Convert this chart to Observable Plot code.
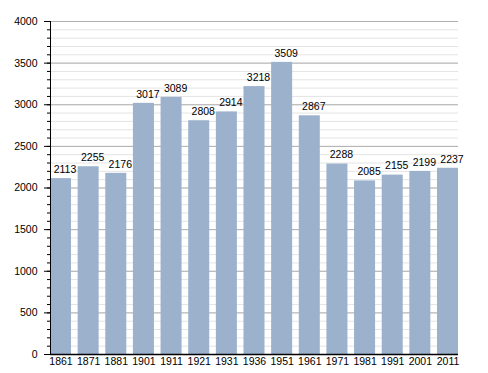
<!DOCTYPE html>
<html>
<head>
<meta charset="utf-8">
<script src="https://cdn.jsdelivr.net/npm/d3@7"></script>
<script src="https://cdn.jsdelivr.net/npm/@observablehq/plot@0.6"></script>
<style>
  html, body { margin: 0; padding: 0; background: #fff; }
</style>
</head>
<body>
<div id="chart"></div>
<script>
const years = ["1861","1871","1881","1901","1911","1921","1931","1936","1951","1961","1971","1981","1991","2001","2011"];
const population = [2113, 2255, 2176, 3017, 3089, 2808, 2914, 3218, 3509, 2867, 2288, 2085, 2155, 2199, 2237];
const majorTicks = [0, 500, 1000, 1500, 2000, 2500, 3000, 3500, 4000];
const minorTicks = d3.range(0, 4001, 100);

const data = years.map((y, i) => ({year: y, pop: population[i]}));

const chart = Plot.plot({
  width: 488,
  height: 373,
  marginLeft: 50,
  marginRight: 30,
  marginTop: 21,
  marginBottom: 19,
  style: {fontFamily: "'Liberation Sans', Arial, sans-serif", fontSize: "10px", color: "#000", background: "#fff"},
  x: {domain: years, padding: 0, paddingInner: 0.24, paddingOuter: 0, round: false, label: null},
  y: {domain: [0, 4000], label: null},
  marks: [
    Plot.ruleY(minorTicks, {stroke: "#e4e4e4", strokeWidth: 1}),
    Plot.ruleY(majorTicks, {stroke: "#b0b0b0", strokeWidth: 1}),
    Plot.barY(data, {x: "year", y: "pop", fill: "#9bb1cc", inset: 0}),
    Plot.text(data, {x: "year", y: "pop", text: d => String(d.pop), dy: -9, dx: 4, fill: "#000", fontSize: 10.5}),
    Plot.axisY({ticks: minorTicks, tickSize: 3, tickFormat: () => "", stroke: "#000"}),
    Plot.axisY({ticks: majorTicks, tickSize: 6, tickPadding: 7, tickFormat: d => String(d), stroke: "#000", fill: "#000", fontSize: 10.5}),
    Plot.axisX({tickSize: 0, tickPadding: 3, fill: "#000", fontSize: 10.5}),
    Plot.frame({anchor: "left", stroke: "#000"}),
    Plot.ruleY([0], {stroke: "#000", strokeWidth: 1.5})
  ]
});
document.getElementById("chart").appendChild(chart);
</script>
</body>
</html>
